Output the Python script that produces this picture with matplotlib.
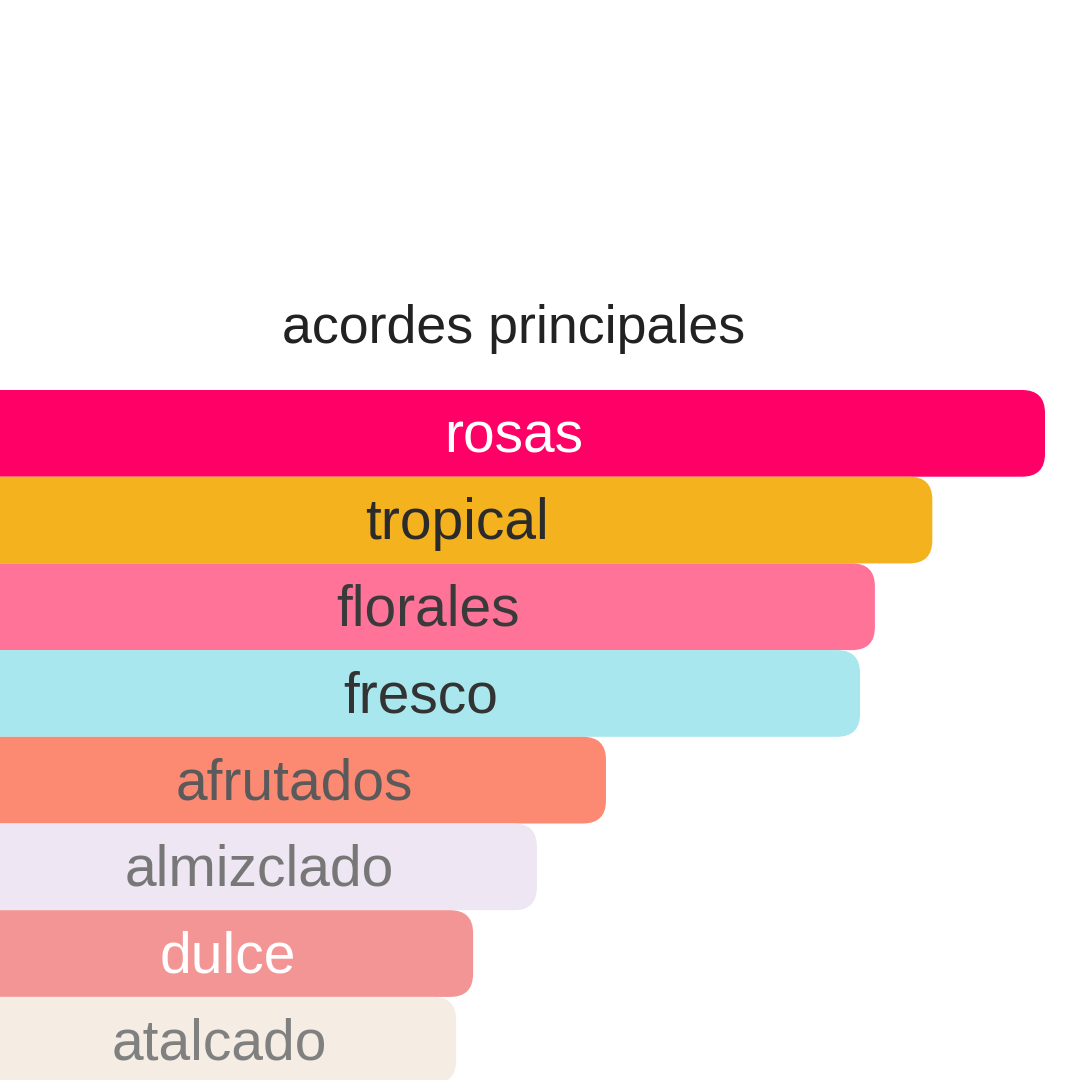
import matplotlib.pyplot as plt
from matplotlib.patches import FancyBboxPatch

# accords, their relative strength (%) and colours
labels = ['rosas', 'tropical', 'florales', 'fresco', 'afrutados', 'almizclado', 'dulce', 'atalcado']
values = [100, 89.4, 84.0, 82.6, 58.7, 52.2, 46.2, 44.6]
bar_colors = ['#ff0066', '#f5b21f', '#ff7399', '#a8e7ee', '#fc8a73', '#eee6f2', '#f39595', '#f5ece3']
text_colors = ['#ffffff', '#2b2b2b', '#3a3a3a', '#333333', '#5a5a5a', '#777777', '#ffffff', '#808080']
title = 'acordes principales'

W = 1080
px_per_unit = 10.63        # x scale, px per percent
row_px = 86.7              # bar height in px
x0_px = -18                # where 0% sits
top_px = 390               # top of first bar

fig = plt.figure(figsize=(10.8, 10.8), dpi=100)
ax = fig.add_axes([0, 0, 1, 1])
ax.set_xlim(-x0_px / px_per_unit, (W - x0_px) / px_per_unit)
ax.set_ylim((W - top_px) / row_px, -top_px / row_px)
ax.axis('off')

r = 23 / px_per_unit
for i, (lab, v, bc, tc) in enumerate(zip(labels, values, bar_colors, text_colors)):
    box = FancyBboxPatch((-6, i), v + 6, 1,
                         boxstyle='round,pad=0,rounding_size=%f' % r,
                         mutation_aspect=px_per_unit / row_px,
                         facecolor=bc, edgecolor='none')
    ax.add_patch(box)
    ax.text(v / 2, i + 0.5 + 4 / row_px, lab, ha='center', va='center', color=tc,
            fontsize=41, family='Liberation Sans')

fig.text(514 / W, 1 - 329 / W, title, ha='center', va='center',
         fontsize=38.7, color='#222222', family='Liberation Sans')

fig.savefig('out.png', dpi=100)
